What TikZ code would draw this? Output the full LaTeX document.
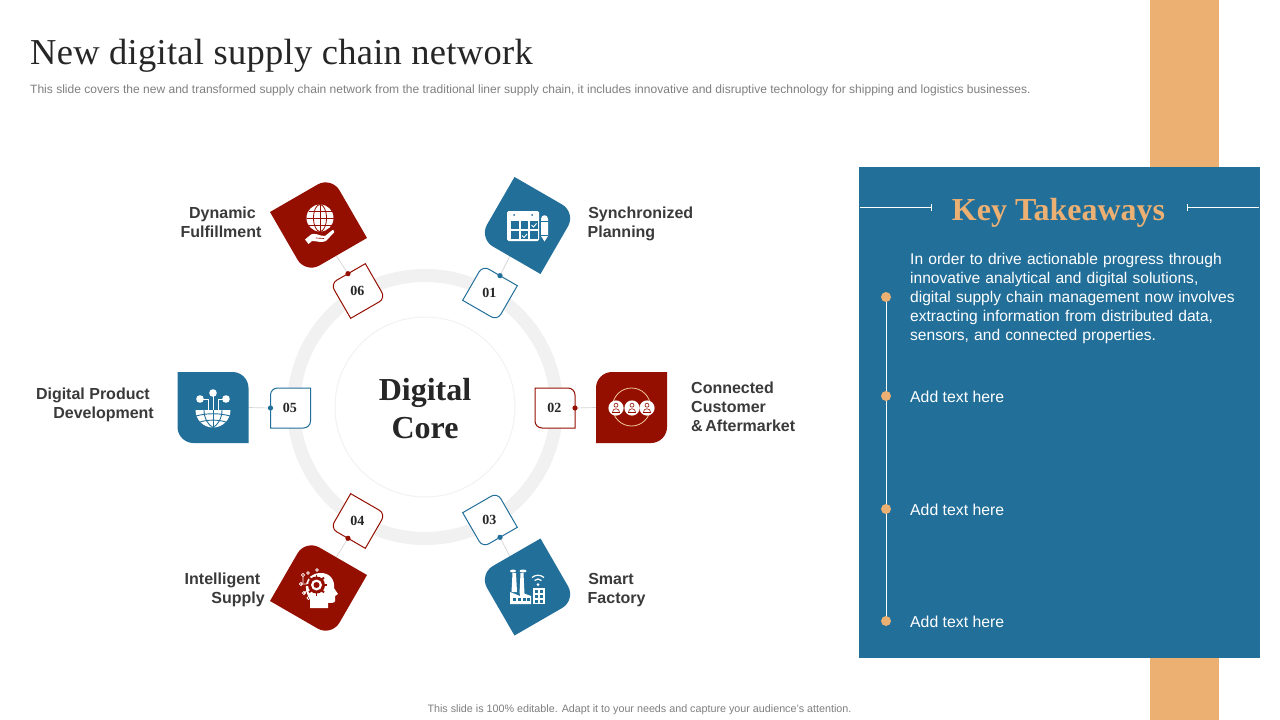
\documentclass[tikz,border=0pt]{standalone}
\usepackage{fontspec}
\setmainfont{Liberation Sans}
\newfontfamily\serf{Liberation Serif}
\newfontfamily\serfs[LetterSpace=0.8]{Liberation Serif}
\usetikzlibrary{calc}
\definecolor{cblue}{HTML}{226F99}
\definecolor{cred}{HTML}{940F00}
\definecolor{corange}{HTML}{ECB073}
\definecolor{clabel}{HTML}{3A3A3A}
\definecolor{cgrey}{HTML}{7F7F7F}
\definecolor{cring}{HTML}{F1F1F1}
\definecolor{cconn}{HTML}{D5D5D5}
\tikzset{
  anchorsq/.style={rectangle,inner sep=0pt,outer sep=0pt,minimum size=#1},
  conn/.style={draw=cconn,line width=.7pt},
  lab/.style={font=\bfseries\fontsize{16}{19}\selectfont,text=clabel,inner sep=0pt,align=left},
  labr/.style={font=\bfseries\fontsize{16}{19}\selectfont,text=clabel,inner sep=0pt,align=right},
  num/.style={font=\serf\bfseries\fontsize{14}{14}\selectfont,text=black!85,inner sep=0pt},
  wtext/.style={font=\fontsize{15.8}{19}\selectfont,text=white,inner sep=0pt,align=left,anchor=west},
}
% rounded corner #2 between neighbours #1 and #3, radius #4
\newcommand{\rc}[4]{($(#2)!#4!(#1)$) .. controls ($(#2)!0.45*#4!(#1)$) and ($(#2)!0.45*#4!(#3)$) .. ($(#2)!#4!(#3)$)}
\newcommand{\rne}[3]{\path[#1] \rc{#2.north west}{#2.north east}{#2.south east}{#3} -- (#2.south east) -- \rc{#2.south east}{#2.south west}{#2.north west}{#3} -- (#2.north west) -- cycle;}
\newcommand{\rnw}[3]{\path[#1] \rc{#2.south west}{#2.north west}{#2.north east}{#3} -- (#2.north east) -- \rc{#2.north east}{#2.south east}{#2.south west}{#3} -- (#2.south west) -- cycle;}
\begin{document}
\begin{tikzpicture}[x=1pt,y=-1pt]
\useasboundingbox (0,0) rectangle (1280,720);
\fill[white] (0,0) rectangle (1280,720);
\fill[corange] (1150,0) rectangle (1219,720);
\fill[cblue] (859,167) rectangle (1260,658);
\node[anchor=west,inner sep=0pt,text=black!85,font=\serfs\fontsize{36.5}{40}\selectfont] (title) at (30,55.5) {New digital supply chain network};
\node[anchor=west,inner sep=0pt,text=cgrey,font=\fontsize{12.03}{14}\selectfont] (sub) at (30,90) {This slide covers the new and transformed supply chain network from the traditional liner supply chain, it includes innovative and disruptive technology for shipping and logistics businesses.};
\node[inner sep=0pt,text=cgrey,font=\fontsize{10.75}{12}\selectfont] (foot) at (639.5,710) {This slide is 100\% editable. Adapt it to your needs and capture your audience's attention.};
\draw[cring,line width=13pt] (425,407) circle[radius=131.5pt];
\draw[black!5,fill=white,line width=1pt] (425,407) circle[radius=90pt];
\node[align=center,inner sep=0pt,text=black!85,font=\serf\bfseries\fontsize{32}{38}\selectfont] (core) at (425,409) {Digital\\Core};
\node[anchorsq=71pt,rotate=-30] (t1) at (527.5,225.5) {};
\node[anchorsq=71pt] (t2) at (631.5,407.5) {};
\node[anchorsq=71pt,rotate=30] (t3) at (527.5,587) {};
\node[anchorsq=71pt,rotate=-30] (t4) at (318.5,588) {};
\node[anchorsq=71pt] (t5) at (213,407.5) {};
\node[anchorsq=71pt,rotate=30] (t6) at (318.5,225) {};
\node[anchorsq=40pt,rotate=-30] (b1) at (490,293) {};
\node[anchorsq=40pt] (b2) at (555,408) {};
\node[anchorsq=40pt,rotate=30] (b3) at (490,520) {};
\node[anchorsq=40pt,rotate=-30] (b4) at (358,521) {};
\node[anchorsq=40pt] (b5) at (290.5,408) {};
\node[anchorsq=40pt,rotate=30] (b6) at (358,291) {};
\draw[conn] (t1.south) -- (b1.north);
\draw[conn] (t2.west) -- (b2.east);
\draw[conn] (t3.north) -- (b3.south);
\draw[conn] (t4.north) -- (b4.south);
\draw[conn] (t5.east) -- (b5.west);
\draw[conn] (t6.south) -- (b6.north);
\rne{fill=cblue}{t1}{16pt}
\rnw{fill=cred}{t2}{16pt}
\rnw{fill=cblue}{t3}{16pt}
\rnw{fill=cred}{t4}{16pt}
\rne{fill=cblue}{t5}{16pt}
\rne{fill=cred}{t6}{16pt}
\rnw{fill=white,draw=cblue,line width=1pt}{b1}{7pt}
\rne{fill=white,draw=cred,line width=1pt}{b2}{7pt}
\rne{fill=white,draw=cblue,line width=1pt}{b3}{7pt}
\rne{fill=white,draw=cred,line width=1pt}{b4}{7pt}
\rnw{fill=white,draw=cblue,line width=1pt}{b5}{7pt}
\rnw{fill=white,draw=cred,line width=1pt}{b6}{7pt}
\node[num] at ($(b1)+(-.7,0)$) {01};
\node[num] at ($(b2)+(-.7,0)$) {02};
\node[num] at ($(b3)+(-.7,0)$) {03};
\node[num] at ($(b4)+(-.7,0)$) {04};
\node[num] at ($(b5)+(-.7,0)$) {05};
\node[num] at ($(b6)+(-.7,0)$) {06};
\fill[cblue] (b1.north) circle[radius=2.6pt];
\fill[cred] (b2.east) circle[radius=2.6pt];
\fill[cblue] (b3.south) circle[radius=2.6pt];
\fill[cred] (b4.south) circle[radius=2.6pt];
\fill[cblue] (b5.west) circle[radius=2.6pt];
\fill[cred] (b6.north) circle[radius=2.6pt];
\node[lab,anchor=west] (l1) at (587.5,224) {\hspace{.6pt}Synchronized\\Planning};
\node[lab,anchor=west] (l2) at (691,406.5) {Connected\\Customer\\\&\,Aftermarket};
\node[lab,anchor=west] (l3) at (587.5,590) {\hspace{.6pt}Smart\\Factory};
\node[labr,anchor=east] (l4) at (265,590) {\mbox{Intelligent\kern4.5pt}\\Supply};
\node[labr,anchor=east] (l5) at (154,405) {\mbox{Digital Product\kern4pt}\\Development};
\node[font=\bfseries\fontsize{16}{19}\selectfont,text=clabel,inner sep=0pt,align=center] (l6) at (221,222) {\hspace{3pt}Dynamic\\Fulfillment};
% icon 6
\fill[white] (320,218) circle[radius=13.5pt];
\begin{scope}[cred,line width=.8pt]
\draw (320,204.5) -- (320,231.5);
\draw (320,218) ellipse[x radius=6.5pt,y radius=13.5pt];
\draw (306.5,218) -- (333.5,218);
\draw (308.5,211) -- (331.5,211);
\draw (308.5,225) -- (331.5,225);
\end{scope}
\fill[white] (305,239.5) -- (311,234.5) .. controls (314,233) and (318,234.5) .. (321,235.5) -- (325,236) -- (332.5,230) .. controls (334,230) and (334.5,231) .. (334,232.5) -- (326,241) .. controls (322,243) and (316,241) .. (312,241) -- (308.5,244) -- cycle;
\draw[cred,line width=.6pt] (316,238) -- (324,238.5);
% icon 1
\fill[white,rounded corners=1.5pt] (507,211) rectangle (539,241);
\foreach \xx in {511,520.5,530}{\foreach \yy in {220.5,231}{\fill[cblue] (\xx,\yy) rectangle +(7.8,8);}}
\fill[cblue] (514,215) circle[radius=1pt] (532,215) circle[radius=1pt];
\draw[white,line width=.9pt] (531.5,225) -- (533.5,227) -- (536.5,223.5);
\draw[white,line width=.9pt] (522,235.5) -- (524,237.5) -- (527,234);
\fill[white] (541,219) .. controls (541,214) and (548,214) .. (548,219) -- (548,236) -- (544.5,241.5) -- (541,236) -- cycle;
\fill[cblue] (541,221) rectangle (548,222);
\fill[cblue] (541,234.5) rectangle (548,235.2);
% icon 2
\draw[corange!70!white,line width=.8pt] (631.5,407) circle[radius=19pt];
\foreach \xx in {616,632,647}{
  \fill[white] (\xx,408) circle[radius=7.6pt];
  \draw[cred,line width=.6pt] (\xx,405.2) circle[radius=2pt];
  \draw[cred,line width=.6pt] (\xx-3.6,412.5) .. controls (\xx-3.6,407.5) and (\xx+3.6,407.5) .. (\xx+3.6,412.5) -- cycle;
}
% icon 3
\fill[white] (512.5,573) -- (516,573) -- (517,592) -- (511.5,592) -- cycle;
\fill[white] (520.5,573) -- (523.5,573) -- (524.5,594) -- (519.5,594) -- cycle;
\fill[white] (513,571) ellipse[x radius=3pt,y radius=1.5pt] (523,571) ellipse[x radius=3.5pt,y radius=1.5pt];
\fill[white] (510,604) -- (510,592) -- (520,596) -- (520,592) -- (531,596) -- (531,604) -- cycle;
\foreach \xx in {512.5,517.5,522.5,527}{\fill[cblue] (\xx,598) rectangle +(3.2,3.2);}
\fill[white] (533,588) rectangle (544.5,604);
\foreach \xx in {534.7,539.5}{\foreach \yy in {590,595,600}{\fill[cblue] (\xx,\yy) rectangle +(3.2,3.2);}}
\fill[white] (538,584.5) circle[radius=1.5pt];
\draw[white,line width=1.2pt] (534.5,580.5) .. controls (536.5,578.5) and (539.5,578.5) .. (541.5,580.5);
\draw[white,line width=1.2pt] (532,577.5) .. controls (535.5,574.5) and (540.5,574.5) .. (544,577.5);
% icon 4
\fill[white] (310,608) -- (310,599) .. controls (303,590) and (304,574) .. (320,573) .. controls (330,572.5) and (335,580) .. (334,588) -- (338,594) -- (335,596) -- (335,601) .. controls (335,603) and (331,603) .. (328,603) -- (328,608) -- cycle;
\foreach \aa in {0,45,...,315}{\draw[cred,line width=1.8pt] ($(316.5,585)+(\aa:7pt)$) -- ($(316.5,585)+(\aa:10.5pt)$);}
\fill[cred] (316.5,585) circle[radius=8.5pt];
\fill[white] (316.5,585) circle[radius=5.5pt];
\fill[cred] (316.5,585) circle[radius=3pt];
\begin{scope}[white,line width=.8pt]
\draw (303,575) circle[radius=1.6pt] (303,576.6) -- (303,583);
\draw (308,573) circle[radius=1.4pt];
\draw (317,570) circle[radius=1.4pt];
\draw (301,584) circle[radius=1.6pt] -- (307,584);
\draw (304,593) circle[radius=1.6pt] -- (308,590);
\draw (308.5,598) circle[radius=1.6pt];
\end{scope}
% icon 5
\fill[white] (195.5,410) -- (230.5,410) arc[start angle=0,end angle=180,radius=17.5pt,y radius=-17.5pt] -- cycle;
\begin{scope}[cblue,line width=.9pt]
\draw (213,410) -- (213,427.5);
\draw (204,410) .. controls (204,418) and (208,425) .. (213,427.5) .. controls (218,425) and (222,418) .. (222,410);
\draw (196,416) .. controls (206,413) and (220,413) .. (230,416);
\draw (200,422) .. controls (208,419.5) and (218,419.5) .. (226,422);
\end{scope}
\begin{scope}[white,line width=.9pt]
\fill (200,399) circle[radius=3.8pt] (213,393) circle[radius=3.8pt] (226,399) circle[radius=3.8pt];
\draw (213,393) -- (213,410);
\draw (200,399) -- (208,399) -- (208,410);
\draw (226,399) -- (218,399) -- (218,410);
\end{scope}
% panel
\node[inner sep=0pt,text=corange,font=\serf\bfseries\fontsize{32}{36}\selectfont] (kt) at (1058.5,212.5) {Key Takeaways};
\coordinate (kl0) at (859.5,207.5);
\coordinate (kl1) at (931.5,207.5);
\coordinate (kr0) at (1187,207.5);
\coordinate (kr1) at (1259,207.5);
\draw[white,line width=.7pt] (kl0) -- (kl1);
\draw[white,line width=.7pt] (931.5,204) -- (931.5,211);
\draw[white,line width=.7pt] (kr0) -- (kr1);
\draw[white,line width=.7pt] (1187,204) -- (1187,211);
\node[wtext,font=\fontsize{15.57}{19}\selectfont,text width=340pt] (p1) at (910,298.5) {In order to drive actionable progress through\\innovative analytical and digital solutions,\\digital supply chain management now involves\\extracting information from distributed data,\\sensors, and connected properties.};
\node[wtext] (p2) at (910,396.5) {Add text here};
\node[wtext] (p3) at (910,509.5) {Add text here};
\node[wtext] (p4) at (910,621.5) {Add text here};
\coordinate (d1) at (886,297);
\coordinate (d2) at (886,396);
\coordinate (d3) at (886,509);
\coordinate (d4) at (886,621);
\draw[white,line width=1pt] (d1) -- (d4);
\foreach \d in {d1,d2,d3,d4}{\fill[corange] (\d) circle[radius=5pt];}
\end{tikzpicture}
\end{document}
